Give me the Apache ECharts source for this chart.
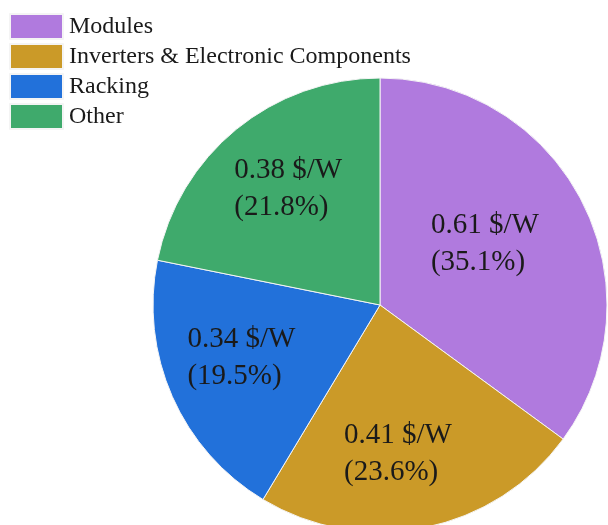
<!DOCTYPE html>
<html>
<head>
<meta charset="utf-8">
<script src="https://cdn.jsdelivr.net/npm/echarts@6/dist/echarts.min.js"></script>
<style>
  html, body { margin: 0; padding: 0; background: #fff; }
  #chart { width: 608px; height: 525px; }
</style>
</head>
<body>
<div id="chart"></div>
<script>
// Installed PV system cost breakdown ($/W)
var categories = ['Modules', 'Inverters & Electronic Components', 'Racking', 'Other'];
var costs = [0.61, 0.41, 0.34, 0.38];
var percents = ['35.1%', '23.6%', '19.5%', '21.8%'];
var colors = ['#b07ade', '#cb9a28', '#2271da', '#3faa6c'];
// nudges for the in-slice labels, relative to the default inside position
var labelOffsets = [[1, -8], [-5, 35], [-32, 6], [-18, -26]];

var font = '"Liberation Serif", "Times New Roman", serif';

var chart = echarts.init(document.getElementById('chart'));
chart.setOption({
  animation: false,
  legend: {
    orient: 'vertical',
    left: 4,
    top: 8,
    itemWidth: 53,
    itemHeight: 25,
    itemGap: 3,
    icon: 'rect',
    selectedMode: false,
    textStyle: { fontFamily: font, fontSize: 24, lineHeight: 25, color: '#1a1a1a', padding: [0, 0, 0, 1] },
    data: categories
  },
  series: [{
    type: 'pie',
    center: [380, 305],
    radius: 227,
    startAngle: 90,
    clockwise: true,
    avoidLabelOverlap: false,
    itemStyle: { borderColor: '#f4f4f4', borderWidth: 1 },
    label: {
      show: true,
      position: 'inside',
      color: '#1a1a1a',
      rich: {
        t: { fontFamily: font, fontSize: 29, lineHeight: 37, color: '#1a1a1a', align: 'left' }
      }
    },
    labelLine: { show: false },
    emphasis: { disabled: true },
    data: categories.map(function (name, i) {
      return {
        name: name,
        value: costs[i],
        itemStyle: { color: colors[i] },
        label: {
          offset: labelOffsets[i],
          formatter: '{t|' + costs[i].toFixed(2) + ' $/W}\n{t|(' + percents[i] + ')}'
        }
      };
    })
  }]
});
</script>
</body>
</html>
